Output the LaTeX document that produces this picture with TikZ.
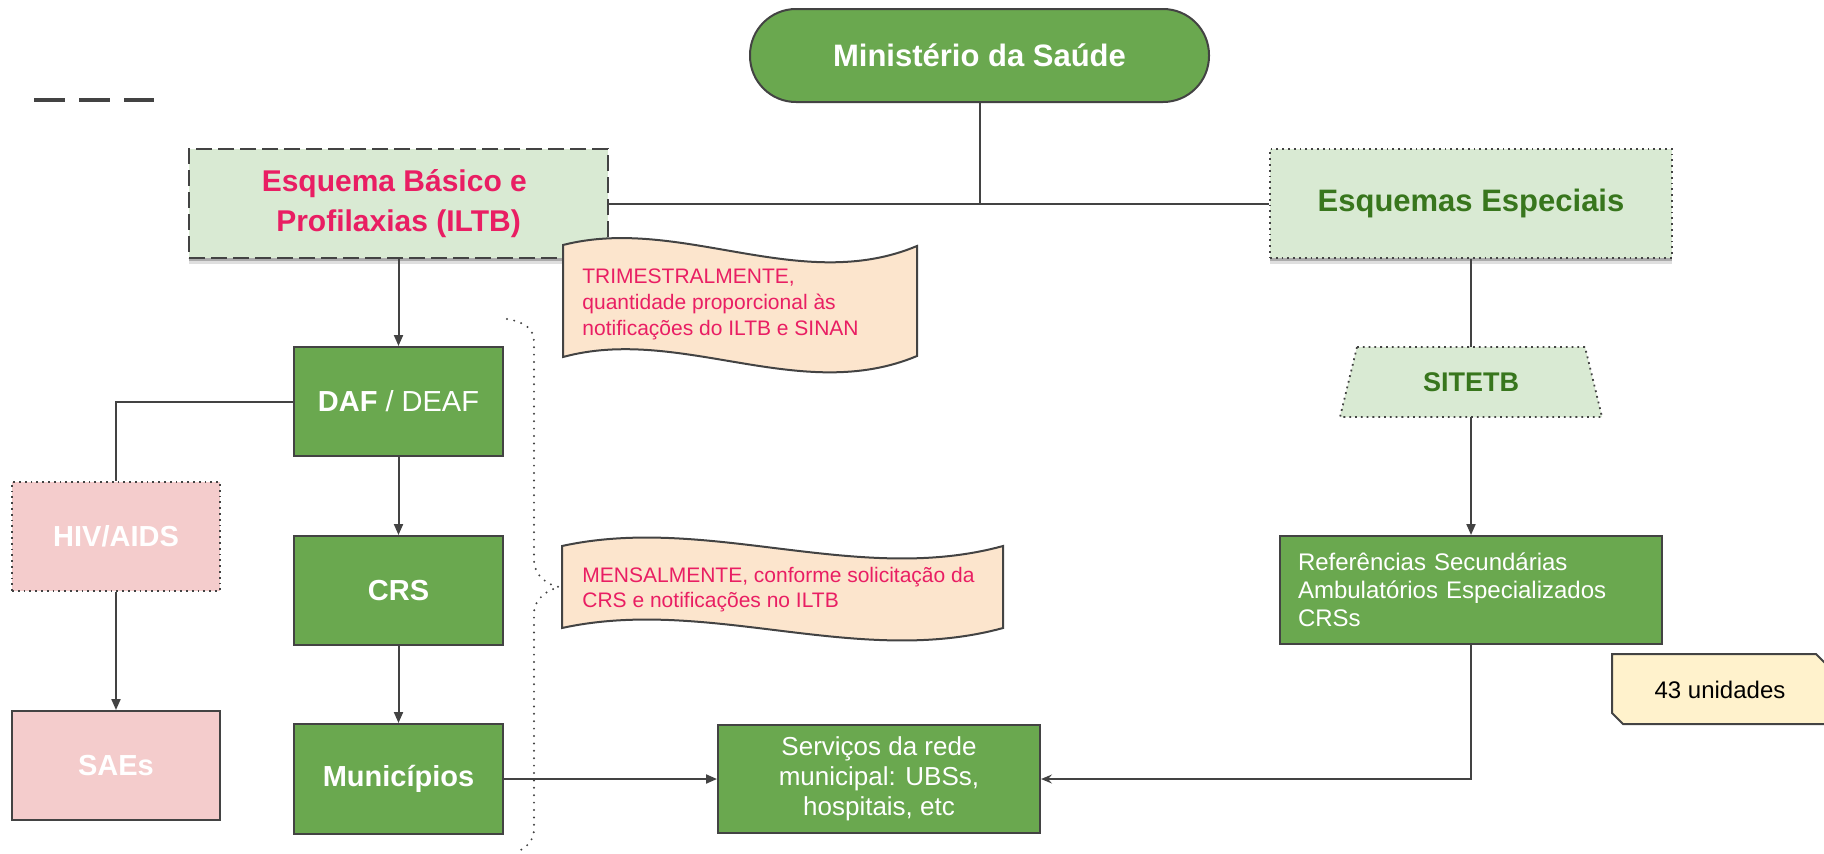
\documentclass[tikz,border=0pt]{standalone}
\usepackage{fontspec}
\setmainfont{Liberation Sans}
\usetikzlibrary{arrows.meta,shadows,calc}
\definecolor{gfill}{HTML}{6AA84F}
\definecolor{lgreen}{HTML}{D9EAD3}
\definecolor{pinkfill}{HTML}{F4CCCC}
\definecolor{peach}{HTML}{FCE5CD}
\definecolor{lyellow}{HTML}{FFF2CC}
\definecolor{magtext}{HTML}{E91E63}
\definecolor{dgreen}{HTML}{38761D}
\definecolor{lineg}{HTML}{434343}
\tikzset{
  base/.style={draw=lineg, line width=1pt, inner sep=0pt, align=center},
  dotbd/.style={line width=0.9pt, dash pattern=on 0.9pt off 2pt},
  dashbd/.style={line width=1pt, dash pattern=on 8pt off 3pt},
  shad/.style={drop shadow={shadow xshift=0pt, shadow yshift=-1.5pt, opacity=0.35, fill=black!70},
               drop shadow={shadow xshift=0pt, shadow yshift=-3pt, opacity=0.18, fill=black!70}},
  bigbold/.style={font=\fontsize{15.5}{18.5}\selectfont\bfseries},
  gbox/.style={base, fill=gfill, text=white, font=\fontsize{14.5}{17}\selectfont\bfseries,
               minimum width=104.5pt, minimum height=54.5pt},
  pbox/.style={base, fill=pinkfill, text=white, font=\fontsize{14.5}{17}\selectfont\bfseries,
               minimum width=104pt, minimum height=54.5pt},
  notebox/.style={draw=lineg, line width=1pt, fill=peach},
  notetext/.style={inner sep=0pt, anchor=north west, align=left, text=magtext},
  conn/.style={draw=lineg, line width=1pt},
  arr/.style={conn, -{Triangle[length=5.5pt,width=4.5pt]}},
  arrs/.style={conn, -{Stealth[length=5.5pt,width=4.5pt,inset=2pt]}},
  bracedot/.style={draw=lineg, line width=1.1pt, line cap=round, dash pattern=on 0pt off 3.7pt},
}
\begin{document}
\begin{tikzpicture}[x=0.5pt,y=-0.5pt]
\useasboundingbox (0,0) rectangle (1824,853);
\clip (0,0) rectangle (1824,853);

% legend-like dashed line
\draw[lineg, line width=2pt, dash pattern=on 15.5pt off 7pt] (34,100) -- (154,100);

% main nodes
\node[base, bigbold, fill=gfill, text=white, rounded corners=23pt,
      minimum width=229.5pt, minimum height=46.5pt] (min) at (979.5,55.5) {Ministério da Saúde};
\node[base, dashbd, shad, fill=lgreen, text=magtext, font=\fontsize{15}{20}\selectfont\bfseries,
      minimum width=209.5pt, minimum height=54.5pt] (esq) at (398.5,203.5) {Esquema Básico e\hphantom{i}\\Profilaxias (ILTB)};
\node[base, dotbd, shad, fill=lgreen, text=dgreen, bigbold,
      minimum width=201pt, minimum height=54.5pt] (esp) at (1471,203.5) {Esquemas Especiais};

\node[gbox, font=\fontsize{14.5}{17}\selectfont] (daf) at (398.5,401.5) {\textbf{DAF} / DEAF};
\node[gbox] (crs) at (398.5,590.5) {CRS};
\node[gbox, minimum height=55pt] (mun) at (398.5,779) {Municípios};

\node[pbox, dotbd] (hiv) at (116,536.5) {HIV/AIDS};
\node[pbox] (saes) at (116,765.5) {SAEs};

% SITETB trapezoid
\path[fill=lgreen, draw=lineg, dotbd] (1357,347) -- (1585,347) -- (1602,417) -- (1340,417) -- cycle;
\node[inner sep=0pt, minimum width=131pt, minimum height=35pt, text=dgreen,
      font=\fontsize{13.5}{16}\selectfont\bfseries] (sit) at (1471,382) {SITETB};

\node[base, fill=gfill, text=white, align=left, text width=173pt, inner xsep=9pt,
      minimum height=54pt, font=\fontsize{12}{14}\selectfont] (ref) at (1471,590)
      {Referências Secundárias\\Ambulatórios Especializados\\CRSs};

\node[base, fill=gfill, text=white, minimum width=161pt, minimum height=54pt,
      font=\fontsize{13}{15}\selectfont] (serv) at (879,779) {Serviços da rede\\municipal: UBSs,\\hospitais, etc};

% dotted brace
\draw[bracedot] (507,319) .. controls (524,322) and (534,328) .. (534,342) -- (534,560)
  .. controls (534,576) and (548,585) .. (559,587)
  .. controls (548,590) and (534,598) .. (534,614) -- (534,828)
  .. controls (534,840) and (528,846) .. (519,851);

% notes
\path[notebox] (563,245) .. controls (680,215) and (800,295) .. (917,246) -- (917,356)
  .. controls (800,405) and (680,325) .. (563,357) -- cycle;
\node[notetext, font=\fontsize{10.5}{13}\selectfont] (n1) at (582,268)
  {TRIMESTRALMENTE,\\quantidade proporcional às\\notificações do ILTB e SINAN};

\path[notebox] (562,546) .. controls (708,514) and (857,586) .. (1003,546) -- (1003,628)
  .. controls (857,668) and (708,596) .. (562,628) -- cycle;
\node[notetext, font=\fontsize{10.5}{12.5}\selectfont] (n2) at (582,567)
  {MENSALMENTE, conforme solicitação da\\CRS e notificações no ILTB};

\path[draw=lineg, line width=1pt, fill=lyellow] (1612,654) -- (1816,654) -- (1830,668) -- (1830,724)
  -- (1623,724) -- (1612,713) -- cycle;
\node[inner sep=0pt, font=\fontsize{12}{14}\selectfont] (u43) at (1720,690) {43 unidades};

% connectors
\draw[conn] (min.south) -- (min.south |- esq.east);
\draw[conn] (esq.east) -- (esp.west);
\draw[arr] (esq.south) -- (daf.north);
\draw[arr] (daf.south) -- (crs.north);
\draw[arr] (crs.south) -- (mun.north);
\draw[conn] (daf.west) -| (hiv.north);
\draw[arr] (hiv.south) -- (saes.north);
\draw[arr] (mun.east) -- (serv.west);
\draw[conn] (esp.south) -- (sit.north);
\draw[arr] (sit.south) -- (ref.north);
\draw[arrs] (ref.south) |- (serv.east);
\end{tikzpicture}
\end{document}
